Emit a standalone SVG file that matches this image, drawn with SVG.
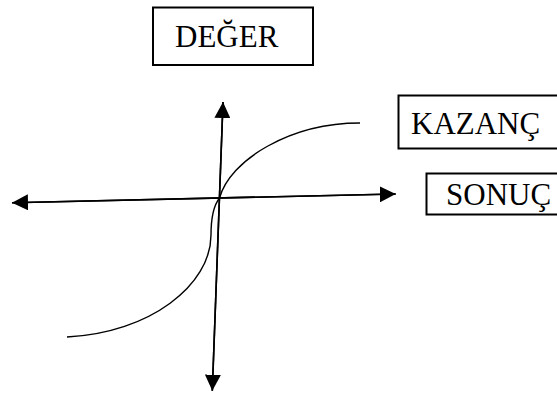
<svg xmlns="http://www.w3.org/2000/svg" width="557" height="394" viewBox="0 0 557 394">
<style>
.box{fill:#fff;stroke:#000;stroke-width:2}
.lbl{font-family:"Liberation Serif","Times New Roman",serif;font-size:31px;fill:#000}
.axis{stroke:#000;stroke-width:1.6;fill:none}
.curve{stroke:#000;stroke-width:1.4;fill:none}
</style>
<defs>
<marker id="ah" markerUnits="userSpaceOnUse" markerWidth="16" markerHeight="16" viewBox="0 0 16 16" refX="16" refY="8" orient="auto">
<path d="M0,0 L16,8 L0,16 z" fill="#000"/>
</marker>
</defs>
<rect width="557" height="394" fill="#fff"/>
<g id="deger">
<rect class="box" x="153" y="7.5" width="160" height="57.5"/>
<text class="lbl" x="175" y="47">DEĞER</text>
</g>
<g id="kazanc">
<rect class="box" x="398.5" y="95.5" width="162" height="53"/>
<text class="lbl" x="411" y="134">KAZANÇ</text>
</g>
<g id="sonuc">
<rect class="box" x="426.5" y="173.5" width="134" height="41"/>
<text class="lbl" x="446" y="205">SONUÇ</text>
</g>
<g id="connectors">
<line class="axis" x1="212.3" y1="390.7" x2="223" y2="102" marker-end="url(#ah)"/>
<line class="axis" x1="223" y1="102" x2="212.3" y2="390.7" marker-end="url(#ah)"/>
<line class="axis" x1="395.7" y1="194" x2="12" y2="202.7" marker-end="url(#ah)"/>
<line class="axis" x1="12" y1="202.7" x2="395.7" y2="194" marker-end="url(#ah)"/>
<path class="curve" d="M360,123 C290,123 230,160 219.5,198 C214,205 211,215 211,235 C211,285 150,333 67,337"/>
</g>
</svg>
